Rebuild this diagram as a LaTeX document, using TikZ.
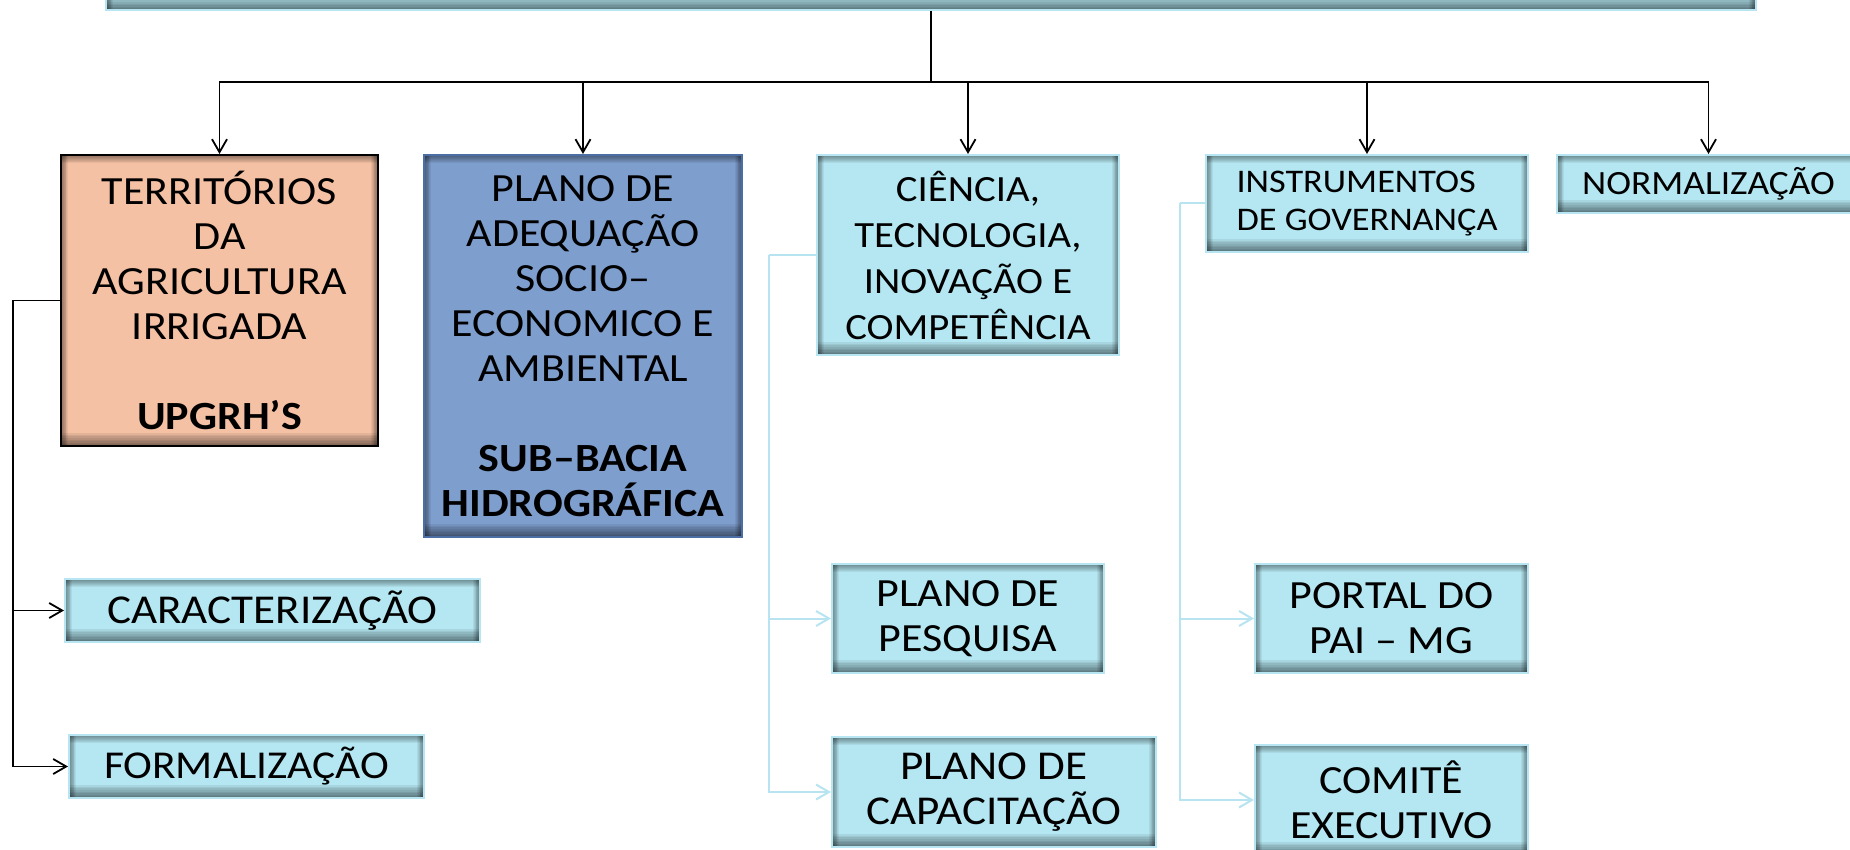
\documentclass[tikz,border=0pt]{standalone}
\usepackage{fontspec}
\setmainfont{Carlito}[FakeStretch=1.1]
\usetikzlibrary{arrows.meta}
\definecolor{cyanfill}{RGB}{181,231,242}
\definecolor{cyanline}{RGB}{183,230,242}
\definecolor{salmon}{RGB}{245,193,164}
\definecolor{steel}{RGB}{126,158,206}
\definecolor{steelline}{RGB}{75,110,165}
\definecolor{lbline}{RGB}{183,228,240}
\begin{document}
\begin{tikzpicture}[x=1pt,y=-1pt,
  shadowed/.style={path picture={
    \foreach \t/\b/\s in {1/1.6/0.9,2/3.2/1.8,3/4.8/2.7,4/6.4/3.6,5/8/4.5,6/9.6/5.4,7/11.2/6.3,8/12.8/7.2}{
      \fill[black,opacity=0.06] (path picture bounding box.north west) rectangle ([yshift=-\t pt]path picture bounding box.north east);
      \fill[black,opacity=0.07] (path picture bounding box.south west) rectangle ([yshift=\b pt]path picture bounding box.south east);
      \fill[black,opacity=0.06] (path picture bounding box.south west) rectangle ([xshift=\s pt]path picture bounding box.north west);
      \fill[black,opacity=0.06] (path picture bounding box.south east) rectangle ([xshift=-\s pt]path picture bounding box.north east);
    }}},
  box/.style={rectangle, inner sep=0pt, align=center, font=\fontsize{40}{45}\selectfont, shadowed},
  cbox/.style={box, fill=cyanfill, draw=cyanline, line width=2pt},
  blk/.style={draw=black, line width=1.8pt},
  lb/.style={draw=lbline, line width=2pt},
  tip/.style={-{Straight Barb[length=13pt,width=15pt]}}
]
\useasboundingbox (0,0) rectangle (1850,850);
\clip (0,0) rectangle (1850,850);

% top box (only its lower edge is visible)
\node[cbox, minimum width=1650pt, minimum height=90pt] (top) at (931,-35) {};

% first level
\node[box, fill=salmon, draw=black, line width=2pt, minimum width=317pt, minimum height=291pt] (terr) at (219.5,300.5)
  {TERRITÓRIOS\\DA\\AGRICULTURA\\IRRIGADA\\[45pt]\textbf{UPGRH’S}};
\node[box, fill=steel, draw=steelline, line width=2pt, minimum width=318pt, minimum height=382pt] (plano) at (583,346)
  {PLANO DE\\ADEQUAÇÃO\\SOCIO–\\ECONOMICO E\\AMBIENTAL\\[45pt]\textbf{SUB–BACIA}\\\textbf{HIDROGRÁFICA}};
\node[cbox, minimum width=302pt, minimum height=200pt, font=\fontsize{37}{46}\selectfont] (cien) at (968,255)
  {CIÊNCIA,\\TECNOLOGIA,\\INOVAÇÃO E\\COMPETÊNCIA};
\node[cbox, minimum width=322pt, minimum height=97pt, align=left, font=\fontsize{33}{38}\selectfont] (instr) at (1367,203.5)
  {INSTRUMENTOS\\DE GOVERNANÇA};
\node[cbox, minimum width=303pt, minimum height=58pt, font=\fontsize{34}{38}\selectfont] (norm) at (1708.5,184)
  {NORMALIZAÇÃO};

% second level
\node[cbox, minimum width=415pt, minimum height=63pt, font=\fontsize{41}{45}\selectfont] (carac) at (272.5,610.5) {CARACTERIZAÇÃO};
\node[cbox, minimum width=355pt, minimum height=63pt, font=\fontsize{39.5}{45}\selectfont] (formal) at (246.5,766.5) {FORMALIZAÇÃO};
\node[cbox, minimum width=272pt, minimum height=109pt] (pesq) at (968,618.5) {PLANO DE\\PESQUISA};
\node[cbox, minimum width=324pt, minimum height=110pt, font=\fontsize{41}{45}\selectfont] (capac) at (994,792) {PLANO DE\\CAPACITAÇÃO};
\node[cbox, minimum width=273pt, minimum height=109pt] (portal) at (1391.5,618.5) {PORTAL DO\\PAI – MG};
\node[cbox, minimum width=273pt, minimum height=110pt] (comite) at (1391.5,800) {COMITÊ\\EXECUTIVO};

% connectors from the top box
\coordinate (bus) at (931,82);
\draw[blk, line width=2.6pt] (top.south) -- (bus);
\foreach \n in {terr,plano,cien,instr,norm}
  \draw[blk,tip] (bus) -| (\n.north);

% black connectors on the left
\coordinate (lft) at (13,300.5);
\draw[blk] (terr.west) -- (lft);
\draw[blk,tip] (lft) |- (carac.west);
\draw[blk,tip] (lft) |- (formal.west);

% light blue connectors
\coordinate (cl) at (769,255);
\draw[lb] (cien.west) -- (cl);
\draw[lb,tip] (cl) |- (pesq.west);
\draw[lb,tip] (cl) |- (capac.west);

\coordinate (il) at (1180,203.5);
\draw[lb] (instr.west) -- (il);
\draw[lb,tip] (il) |- (portal.west);
\draw[lb,tip] (il) |- (comite.west);
\end{tikzpicture}
\end{document}
